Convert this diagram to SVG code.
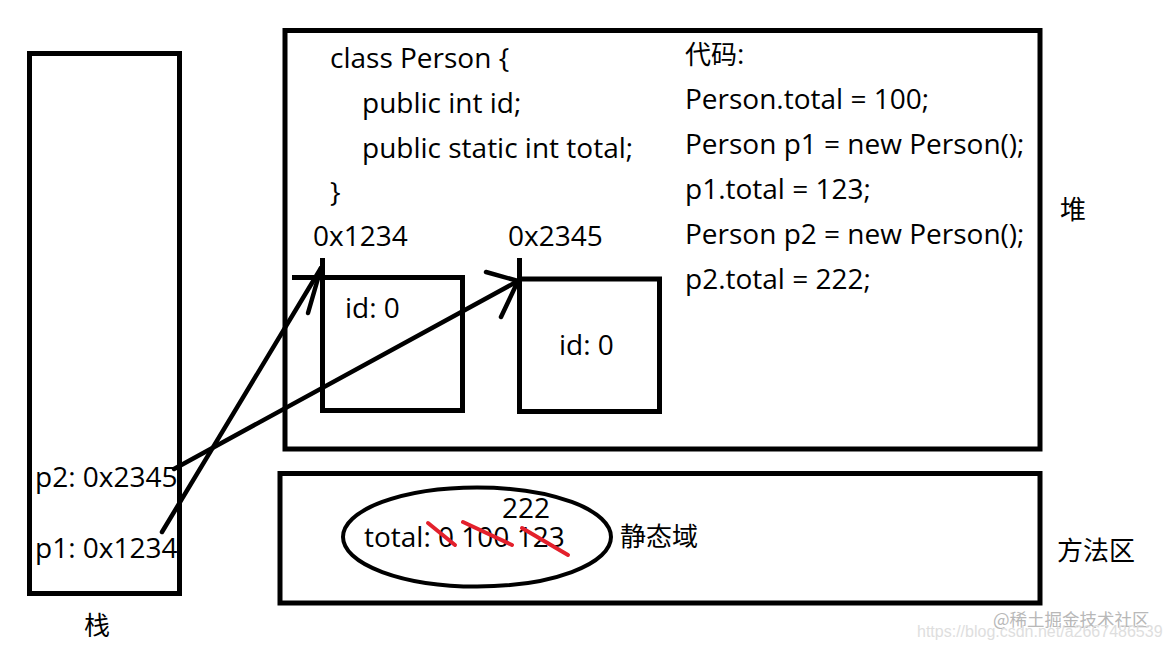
<svg xmlns="http://www.w3.org/2000/svg" width="1171" height="649" viewBox="0 0 1171 649">
<style>
.box{fill:none;stroke:#000;stroke-width:5}
.ln{fill:none;stroke:#000;stroke-width:4.5;stroke-linecap:round}
.red{fill:none;stroke:#e3202c;stroke-width:4;stroke-linecap:round}
text{font-family:"Open Sans","Noto Sans CJK SC",sans-serif;font-size:28px;fill:#000}
.cjk{font-family:"Noto Sans CJK SC",sans-serif;font-size:26px}
.wm{font-family:"Noto Sans CJK SC",sans-serif;font-size:17.5px;fill:#b8b8b8}
.wm2{font-family:"Liberation Sans",sans-serif;font-size:16px;fill:#dedede}
</style>
<rect width="1171" height="649" fill="#fff"/>
<g id="stack">
<rect class="box" x="29.5" y="53.5" width="150" height="540"/>
<text x="35" y="487">p2: 0x2345</text>
<text x="35" y="558">p1: 0x1234</text>
<text class="cjk" x="84" y="635">栈</text>
</g>
<g id="heap">
<rect class="box" x="285" y="30.5" width="755" height="418.5"/>
<text x="330" y="68">class Person {</text>
<text x="362" y="113">public int id;</text>
<text x="362" y="158">public static int total;</text>
<text x="330" y="202">}</text>
<text x="685" y="64"><tspan class="cjk">代码</tspan>:</text>
<text x="685" y="109">Person.total = 100;</text>
<text x="685" y="154">Person p1 = new Person();</text>
<text x="685" y="199">p1.total = 123;</text>
<text x="685" y="244">Person p2 = new Person();</text>
<text x="685" y="289">p2.total = 222;</text>
<text class="cjk" x="1060" y="219">堆</text>
</g>
<g id="obj1">
<rect class="box" x="322.5" y="277.5" width="140" height="133"/>
<line class="box" x1="292" y1="277.5" x2="322.5" y2="277.5"/>
<line class="box" x1="322.5" y1="258" x2="322.5" y2="278"/>
<text x="313" y="246">0x1234</text>
<text x="345" y="318">id: 0</text>
</g>
<g id="obj2">
<rect class="box" x="519.5" y="279" width="140" height="132.5"/>
<line class="box" x1="519.5" y1="258" x2="519.5" y2="279"/>
<text x="508" y="246">0x2345</text>
<text x="559" y="355">id: 0</text>
</g>
<g id="method">
<rect class="box" x="280" y="473.5" width="760" height="129.5"/>
<ellipse cx="477" cy="537" rx="134" ry="49.5" fill="none" stroke="#000" stroke-width="4"/>
<text x="364" y="547">total: 0 100 123</text>
<text x="502" y="518">222</text>
<text class="cjk" x="620" y="546">静态域</text>
<text class="cjk" x="1057" y="560">方法区</text>
</g>
<g id="strikes">
<line class="red" x1="428" y1="523" x2="455" y2="545"/>
<line class="red" x1="463" y1="522" x2="512" y2="545"/>
<line class="red" x1="522" y1="528" x2="568" y2="555"/>
</g>
<g id="connectors">
<polyline class="ln" points="162,532 321,268"/>
<polyline class="ln" points="308,313 321,268"/>
<polyline class="ln" points="174,469 518,281"/>
<polyline class="ln" points="486,272 518,281 501,317"/>
</g>
<g id="watermark">
<text class="wm" x="993" y="626">@稀土掘金技术社区</text>
<text class="wm2" x="917" y="637">https://blog.csdn.net/a2667486539</text>
</g>
</svg>
